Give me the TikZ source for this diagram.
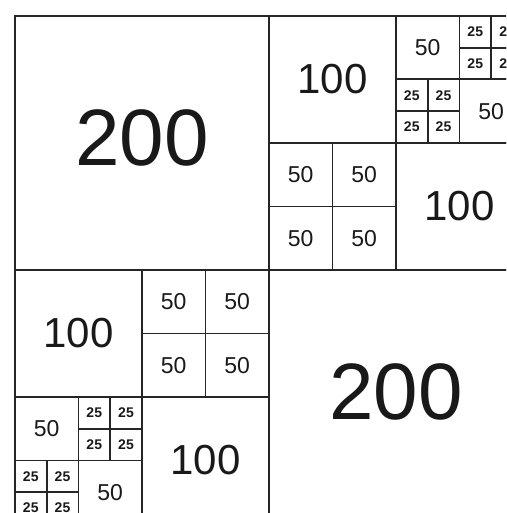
\documentclass[tikz,border=0pt]{standalone}
\usepackage{fontspec}
\setmainfont{Liberation Sans}
\begin{document}
\begin{tikzpicture}[x=1pt,y=-1pt,
  cell/.style={draw=black!85, line width=1.8pt, inner sep=0pt, anchor=north west,
    minimum size=#1, text=black!90},
  f200/.style={font=\fontsize{80}{80}\selectfont, text depth=10pt},
  f100/.style={font=\fontsize{42}{42}\selectfont},
  f50/.style={font=\fontsize{23}{23}\selectfont},
  f25/.style={font=\bfseries\fontsize{14}{14}\selectfont}]
\useasboundingbox (0,0) rectangle (506,513);
\fill[white] (0,0) rectangle (506,513);
\clip (0,0) rectangle (506,513);
\foreach \x/\y/\s [count=\i] in {
  0/0/200,
  200/0/100,
  300/0/50, 350/0/25, 375/0/25, 350/25/25, 375/25/25,
  300/50/25, 325/50/25, 300/75/25, 325/75/25, 350/50/50,
  200/100/50, 250/100/50, 200/150/50, 250/150/50,
  300/100/100,
  0/200/100,
  100/200/50, 150/200/50, 100/250/50, 150/250/50,
  0/300/50, 50/300/25, 75/300/25, 50/325/25, 75/325/25,
  0/350/25, 25/350/25, 0/375/25, 25/375/25, 50/350/50,
  100/300/100,
  200/200/200} {
  \pgfmathsetmacro\px{14+1.27*\x}
  \pgfmathsetmacro\py{15+1.27*\y}
  \pgfmathsetmacro\ps{1.27*\s}
  \node[cell=\ps pt, f\s] (c\i) at (\px,\py) {\s};
}
\end{tikzpicture}
\end{document}
